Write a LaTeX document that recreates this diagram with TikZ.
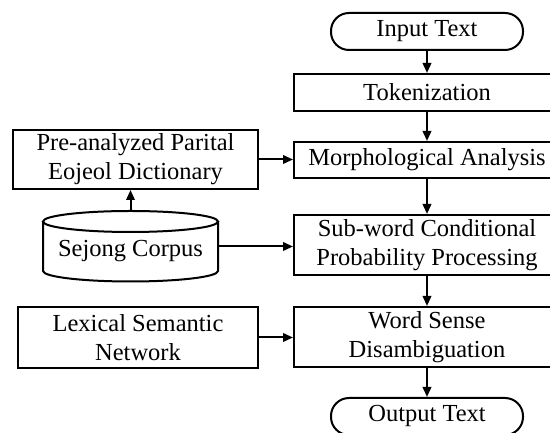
\documentclass[tikz,border=0pt]{standalone}
\usepackage{fontspec}
\setmainfont{Liberation Serif}
\usetikzlibrary{arrows.meta}
\begin{document}
\begin{tikzpicture}[x=1pt,y=1pt,
  every node/.style={font=\fontsize{24.5}{29}\selectfont, inner sep=0pt},
  box/.style={draw, line width=2pt, align=center},
  term/.style={draw, line width=2pt, rounded corners=18pt},
  conn/.style={line width=2pt, -{Triangle[length=10pt,width=8.5pt]}}]
\clip (0,0) rectangle (550,433);
% main column
\node[term, minimum width=192, minimum height=37] (inp) at (427,401.5) {Input Text};
\node[box, minimum width=266, minimum height=37] (tok) at (427,340.5) {Tokenization};
\node[box, minimum width=266, minimum height=36] (mor) at (427,273) {Morphological Analysis};
\node[box, minimum width=266, minimum height=60] (sub) at (427,188) {Sub-word Conditional\\Probability Processing};
\node[box, minimum width=266, minimum height=60] (wsd) at (427,96) {Word Sense\\Disambiguation};
\node[term, minimum width=192, minimum height=37] (out) at (427,16.5) {Output Text};
% left column
\node[box, minimum width=245, minimum height=59] (pre) at (135.5,273.5) {Pre-analyzed Parital\\Eojeol Dictionary};
\node[box, minimum width=240, minimum height=61] (lex) at (138,95.5) {Lexical Semantic\\Network};
\node[minimum width=175, minimum height=71] (sej) at (130.5,186.5) {};
\node at (130.5,182) {Sejong Corpus};
% cylinder
\draw[line width=2pt] (130.5,211.5) ellipse [x radius=87.5, y radius=10.5];
\draw[line width=2pt] (43,211.5) -- (43,162) arc[start angle=180, end angle=360, x radius=87.5, y radius=10.5] -- (218,211.5);
% connectors
\draw[conn] (inp) -- (tok);
\draw[conn] (tok) -- (mor);
\draw[conn] (mor) -- (sub);
\draw[conn] (sub) -- (wsd);
\draw[conn] (wsd) -- (out);
\draw[conn] (pre.east) -- (pre.east -| mor.west);
\draw[conn] (sej.east) -- (sej.east -| sub.west);
\draw[conn] (lex.east) -- (lex.east -| wsd.west);
\draw[conn] (sej.north) -- (sej.north |- pre.south);
\end{tikzpicture}
\end{document}
